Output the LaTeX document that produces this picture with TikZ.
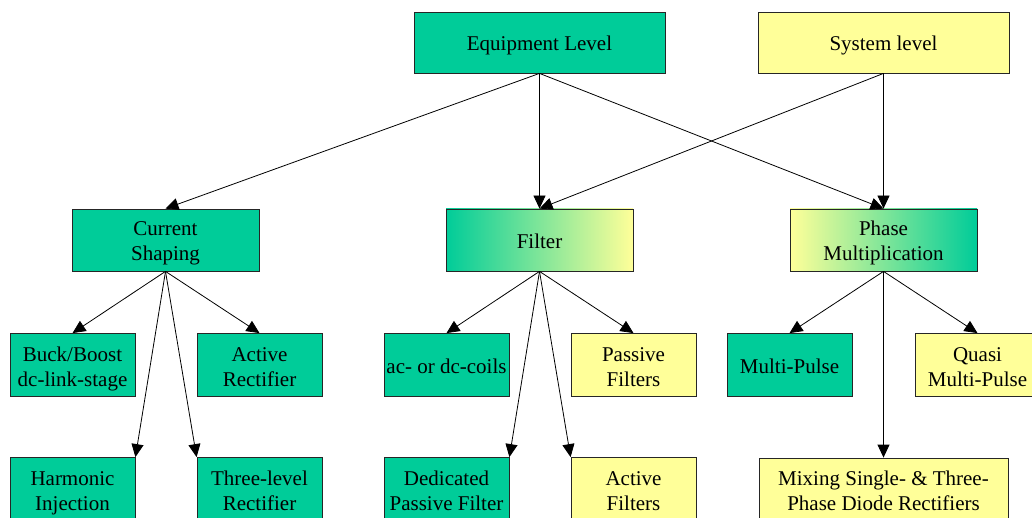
\documentclass[tikz,border=0pt]{standalone}
\usepackage{fontspec}
\setmainfont{Liberation Serif}
\usetikzlibrary{arrows.meta}
\definecolor{seagrn}{RGB}{0,204,153}
\definecolor{paleyel}{RGB}{255,255,153}
% fixed height/depth for the first and last line of a box
\newcommand\boxstrut{\rule[-5pt]{0pt}{27pt}}
\newcommand\boxdepth{\rule[-5pt]{0pt}{5pt}}
\begin{document}
\begin{tikzpicture}[x=1pt, y=1pt, node distance=125pt,
  box/.style={draw=black!85, line width=0.8pt, align=center, inner sep=1pt,
    minimum width=125pt, minimum height=63pt, font=\fontsize{21}{25}\selectfont},
  grn/.style={box, fill=seagrn},
  yel/.style={box, fill=paleyel},
  mid/.style={minimum width=187pt, minimum height=62pt},
  top/.style={minimum width=251pt, minimum height=61pt},
  arr/.style={-{Triangle[length=13pt,width=12pt]}, line width=0.8pt}]
\useasboundingbox (0,0) rectangle (1032,517);

\node[grn, top] (equip) at (539.5,474.5) {\boxstrut Equipment Level};
\node[yel, top, right of=equip, node distance=344pt] (sys) {\boxstrut System level};
\node[box, mid, left color=seagrn, right color=paleyel, below of=equip, node distance=197.5pt] (filter) {\boxstrut Filter};
\node[box, mid, left color=paleyel, right color=seagrn, below of=sys, node distance=197.5pt] (phase) {\boxstrut Phase\\Multiplication\boxdepth};
\node[grn, mid, left of=filter, node distance=374pt] (cs) {\boxstrut Current\\Shaping\boxdepth};

% second row
\node[grn, below of=cs, xshift=-93pt] (buck) {\boxstrut Buck/Boost\\dc-link-stage\boxdepth};
\node[grn, below of=cs, xshift=94pt] (actrect) {\boxstrut Active\\Rectifier\boxdepth};
\node[grn, below of=filter, xshift=-93pt] (coils) {\boxstrut ac- or dc-coils};
\node[yel, below of=filter, xshift=94pt] (passive) {\boxstrut Passive\\Filters\boxdepth};
\node[grn, below of=phase, xshift=-94pt] (multi) {\boxstrut Multi-Pulse};
\node[yel, below of=phase, xshift=94pt] (quasi) {\boxstrut Quasi\\Multi-Pulse\boxdepth};

% third row
\node[grn, below of=buck, node distance=124pt] (harm) {\boxstrut Harmonic\\Injection\boxdepth};
\node[grn, below of=actrect, node distance=124pt] (three) {\boxstrut Three-level\\Rectifier\boxdepth};
\node[grn, below of=coils, node distance=124pt] (dedic) {\boxstrut Dedicated\\Passive Filter\boxdepth};
\node[yel, below of=passive, node distance=124pt] (actfilt) {\boxstrut Active\\Filters\boxdepth};
\node[yel, minimum width=249pt, below of=phase, node distance=249.5pt] (mixing) {\boxstrut Mixing Single- \& Three-\\Phase Diode Rectifiers\boxdepth};

\draw[arr] (equip.south) -- (cs.north);
\draw[arr] (equip.south) -- (filter.north);
\draw[arr] (equip.south) -- (phase.north);
\draw[arr] (sys.south) -- (filter.north);
\draw[arr] (sys.south) -- (phase.north);

\draw[arr] (cs.south) -- (buck.north);
\draw[arr] (cs.south) -- (actrect.north);
\draw[arr] (cs.south) -- (harm.north east);
\draw[arr] (cs.south) -- (three.north west);

\draw[arr] (filter.south) -- (coils.north);
\draw[arr] (filter.south) -- (passive.north);
\draw[arr] (filter.south) -- (dedic.north east);
\draw[arr] (filter.south) -- (actfilt.north west);

\draw[arr] (phase.south) -- (multi.north);
\draw[arr] (phase.south) -- (quasi.north);
\draw[arr] (phase.south) -- (mixing.north);
\end{tikzpicture}
\end{document}
